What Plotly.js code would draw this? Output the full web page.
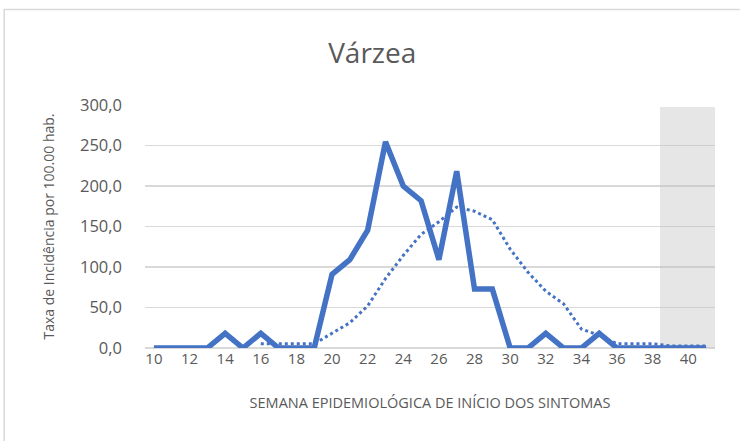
<!DOCTYPE html>
<html>
<head>
<meta charset="utf-8">
<script src="https://cdn.plot.ly/plotly-3.0.1.min.js"></script>
<style>
html,body{margin:0;padding:0;background:#fff;}
#chart{width:740px;height:441px;}
</style>
</head>
<body>
<div id="chart"></div>
<script>
const weeks = [10,11,12,13,14,15,16,17,18,19,20,21,22,23,24,25,26,27,28,29,30,31,32,33,34,35,36,37,38,39,40,41];
const incidence = [0,0,0,0,18.2,0,18.2,0,0,0,90.9,109.1,145.5,254.5,200.0,181.8,109.1,218.2,72.7,72.7,0,0,18.2,0,0,18.2,0,0,0,0,0,0];
const trendWeeks = [16,17,18,19,20,21,22,23,24,25,26,27,28,29,30,31,32,33,34,35,36,37,38,39,40,41];
const trendValues = [5.2,5.2,5.2,5.2,18.2,31.2,52.0,85.7,114.3,140.3,155.8,174.0,168.8,158.4,122.1,93.5,70.1,54.5,23.4,15.6,5.2,5.2,5.2,2.6,2.6,2.6];
const shadeStart = [38.4];
const shadeWidth = [3.1];
const shadeValues = [297];
const tickVals = [10,12,14,16,18,20,22,24,26,28,30,32,34,36,38,40];

const font = "'Open Sans', 'Liberation Sans', sans-serif";
const grey = '#595959';

const traces = [
  {x: shadeStart, y: shadeValues, type: 'bar', width: shadeWidth, offset: 0,
   marker: {color: 'rgba(190,190,190,0.38)', line: {width: 0}},
   hoverinfo: 'skip', showlegend: false},
  {x: trendWeeks, y: trendValues, type: 'scatter', mode: 'lines',
   line: {color: '#4472C4', width: 3, dash: 'dot'}, showlegend: false},
  {x: weeks, y: incidence, type: 'scatter', mode: 'lines',
   line: {color: '#4472C4', width: 5.5, shape: 'linear'}, showlegend: false}
];

const layout = {
  width: 740, height: 441,
  margin: {l: 145, r: 25, t: 105, b: 93, pad: 0},
  paper_bgcolor: '#fff', plot_bgcolor: '#fff',
  bargap: 0,
  title: {text: 'Várzea', font: {family: font, size: 28, color: grey}, x: 0.503, xanchor: 'center', y: 0.88, yanchor: 'middle'},
  xaxis: {
    range: [9.5, 41.5], tickmode: 'array', tickvals: tickVals, ticktext: tickVals.map(String),
    showgrid: false, zeroline: false, showline: false, ticks: '',
    tickfont: {family: font, size: 15, color: grey},
    title: {text: 'SEMANA EPIDEMIOLÓGICA DE INÍCIO DOS SINTOMAS', font: {family: font, size: 14.5, color: grey}, standoff: 30}
  },
  yaxis: {
    range: [0, 300], tickvals: [0,50,100,150,200,250,300],
    ticktext: ['0,0','50,0','100,0','150,0','200,0','250,0','300,0'],
    showgrid: true, gridcolor: '#D9D9D9', gridwidth: 1.5, zeroline: true, zerolinecolor: '#D9D9D9', zerolinewidth: 1.5,
    showline: false, ticks: '', ticklabelstandoff: 22,
    tickfont: {family: font, size: 16.5, color: grey},
    title: {text: 'Taxa de Incidência por 100.00 hab.', font: {family: font, size: 14, color: grey}, standoff: 22}
  },
  shapes: [
    {type: 'rect', xref: 'paper', yref: 'paper', x0: -0.247, x1: 1.06, y0: -0.45, y1: 1.393,
     line: {color: '#D9D9D9', width: 1.5}, fillcolor: 'rgba(0,0,0,0)', layer: 'below'}
  ]
};

Plotly.newPlot('chart', traces, layout, {displayModeBar: false, staticPlot: true});
</script>
</body>
</html>
